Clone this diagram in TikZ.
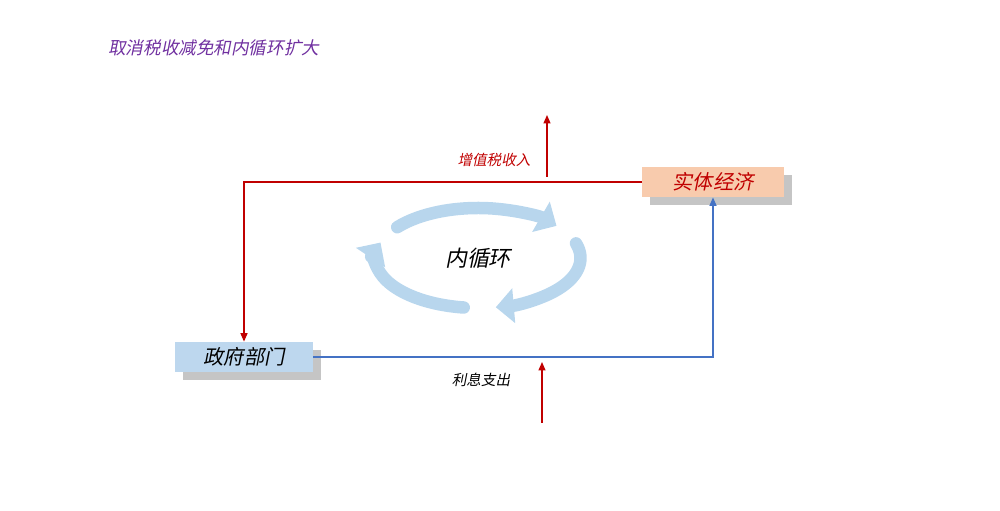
\documentclass[tikz,border=0pt]{standalone}
\usepackage{fontspec}
\usepackage{tikz, xcolor}
\usetikzlibrary{arrows.meta, calc, shadows}
\newfontfamily\cjk[FakeSlant=0.2]{Noto Sans CJK SC}
\definecolor{flowred}{RGB}{192,0,0}
\definecolor{flowblue}{RGB}{68,114,196}
\definecolor{cyclblue}{RGB}{184,214,237}
\definecolor{govfill}{RGB}{189,215,238}
\definecolor{ecofill}{RGB}{248,203,173}
\definecolor{titlepurple}{RGB}{112,48,160}
\tikzset{sector/.style = {minimum height=0.6cm, inner sep=0pt, font=\cjk\fontsize{11.5}{13}\selectfont,
  drop shadow={shadow xshift=0.16cm, shadow yshift=-0.16cm, fill=black!45}}}
\tikzset{flow/.style = {line width=0.8pt, -{Triangle[length=1.7mm,width=1.4mm]}}}
\tikzset{loop/.style = {cyclblue, line width=0.25cm, line cap=round, -{Triangle[length=0.36cm,width=0.68cm]}}}

\begin{document}
\begin{tikzpicture}
\useasboundingbox (0,0) rectangle (20,10.22);
\node [anchor=west, inner sep=0pt, titlepurple, font=\cjk\fontsize{10}{12}\selectfont] (title) at (2.16,9.26) {取消税收减免和内循环扩大};
\node [sector, fill=ecofill, text=flowred, minimum width=2.84cm] (eco) at (14.26,6.58) {实体经济};
\node [sector, fill=govfill, minimum width=2.76cm] (gov) at (4.88,3.08) {政府部门};
\draw [flow, flowred] (eco.west) -| (gov.north);
\draw [flow, flowblue] (gov.east) -| (eco.south);
\coordinate (vatlow) at (10.94,6.68);
\coordinate (vattop) at (10.94,7.92);
\draw [flow, flowred] (vatlow) -- (vattop);
\node [flowred, font=\cjk\fontsize{8.3}{10}\selectfont] (vat) at (9.88,7.02) {增值税收入};
\coordinate (intlow) at (10.84,1.76);
\coordinate (inttop) at (10.84,2.98);
\draw [flow, flowred] (intlow) -- (inttop);
\node [font=\cjk\fontsize{8.3}{10}\selectfont] (interest) at (9.62,2.62) {利息支出};
\node [font=\cjk\fontsize{12.5}{14}\selectfont] (cycle) at (9.56,5.06) {内循环};
\draw [loop] ($(cycle)+(142:2.05cm and 1cm)$) arc [start angle=142, end angle=40, x radius=2.05cm, y radius=1cm];
\draw [loop] ($(cycle)+(17:2.05cm and 1cm)$) arc [start angle=17, end angle=-80, x radius=2.05cm, y radius=1cm];
\draw [loop] ($(cycle)+(-98:2.05cm and 1cm)$) arc [start angle=-98, end angle=-198, x radius=2.05cm, y radius=1cm];
\end{tikzpicture}
\end{document}
